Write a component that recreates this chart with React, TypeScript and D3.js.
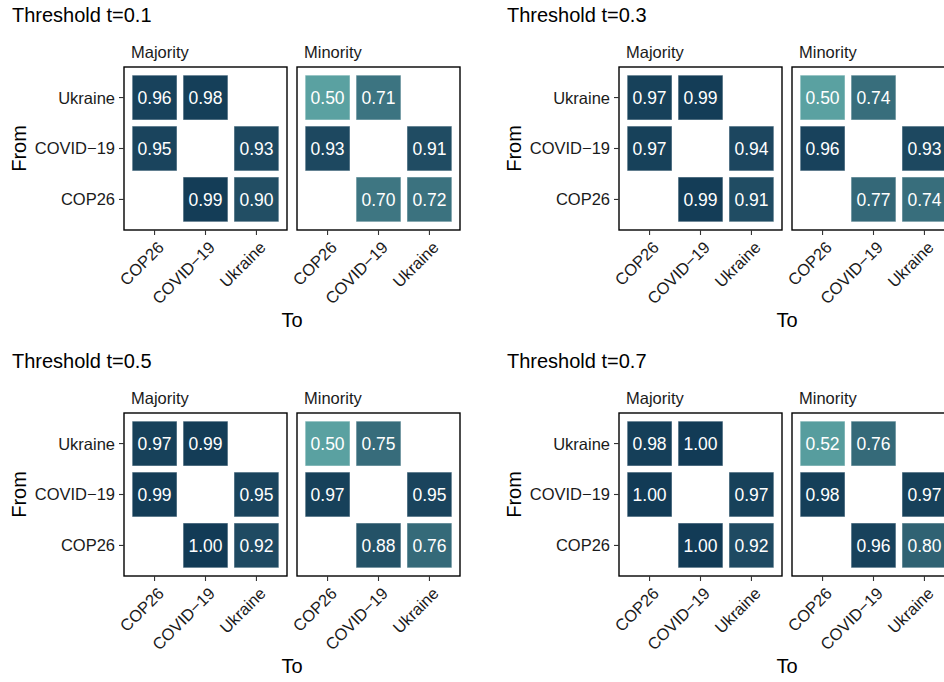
import * as d3 from "d3";

// categories
const fromCats = ["Ukraine", "COVID\u221219", "COP26"];
const toCats = ["COP26", "COVID\u221219", "Ukraine"];
const groups = ["Majority", "Minority"];
const thresholds = ["0.1", "0.3", "0.5", "0.7"];

// cells that exist: [from, to]
const cellPairs: [string, string][] = [
  ["Ukraine", "COP26"],
  ["Ukraine", "COVID\u221219"],
  ["COVID\u221219", "COP26"],
  ["COVID\u221219", "Ukraine"],
  ["COP26", "COVID\u221219"],
  ["COP26", "Ukraine"],
];

// values per threshold, in cellPairs order
const majority01 = [0.96, 0.98, 0.95, 0.93, 0.99, 0.9];
const minority01 = [0.5, 0.71, 0.93, 0.91, 0.7, 0.72];
const majority03 = [0.97, 0.99, 0.97, 0.94, 0.99, 0.91];
const minority03 = [0.5, 0.74, 0.96, 0.93, 0.77, 0.74];
const majority05 = [0.97, 0.99, 0.99, 0.95, 1.0, 0.92];
const minority05 = [0.5, 0.75, 0.97, 0.95, 0.88, 0.76];
const majority07 = [0.98, 1.0, 1.0, 0.97, 1.0, 0.92];
const minority07 = [0.52, 0.76, 0.98, 0.97, 0.96, 0.8];

const values = [
  [majority01, minority01],
  [majority03, minority03],
  [majority05, minority05],
  [majority07, minority07],
];

const FONT = "'Liberation Sans', Arial, Helvetica, sans-serif";
const PW = 163;
const PH = 163;
const panelX = [124, 297];
const panelY = 67;
const offX = 495;
const offY = 346;

const color = d3
  .scaleLinear<string>()
  .domain([0.5, 1])
  .range(["#5aa1a1", "#123b56"])
  .interpolate(d3.interpolateLab);

const x = d3.scaleBand().domain(toCats).range([0, PW]).paddingInner(0.12).paddingOuter(0.16);
const y = d3.scaleBand().domain(fromCats).range([0, PH]).paddingInner(0.12).paddingOuter(0.16);

function Plot({ ti }: { ti: number }) {
  const ox = (ti % 2) * offX;
  const oy = Math.floor(ti / 2) * offY;
  return (
    <g transform={`translate(${ox},${oy})`}>
      <text x={12} y={22} fontSize={20} fill="#000">
        {`Threshold t=${thresholds[ti]}`}
      </text>
      {groups.map((g, gi) => {
        const px = panelX[gi];
        return (
          <g key={g} transform={`translate(${px},${panelY})`}>
            <text x={7} y={-9.5} fontSize={16.5} fill="#1a1a1a">
              {g}
            </text>
            {cellPairs.map(([f, t], ci) => {
              const v = values[ti][gi][ci];
              const cx = x(t)!;
              const cy = y(f)!;
              return (
                <g key={ci}>
                  <rect
                    x={cx}
                    y={cy}
                    width={x.bandwidth()}
                    height={y.bandwidth()}
                    fill={color(v)}
                    stroke="#ffffff"
                    strokeOpacity={0.45}
                    strokeWidth={1}
                  />
                  <text
                    x={cx + x.bandwidth() / 2}
                    y={cy + y.bandwidth() / 2}
                    dy="0.36em"
                    textAnchor="middle"
                    fontSize={17.5}
                    fill="#ffffff"
                  >
                    {v.toFixed(2)}
                  </text>
                </g>
              );
            })}
            <rect x={0} y={0} width={PW} height={PH} fill="none" stroke="#000" strokeWidth={1.4} />
            {/* x ticks */}
            {toCats.map((t) => {
              const tx = x(t)! + x.bandwidth() / 2;
              return (
                <g key={t}>
                  <line x1={tx} x2={tx} y1={PH} y2={PH + 5} stroke="#333" strokeWidth={1.1} />
                  <text
                    transform={`translate(${tx + 2},${PH + 10}) rotate(-45)`}
                    textAnchor="end"
                    dy="0.72em"
                    fontSize={16.5}
                    fill="#1a1a1a"
                  >
                    {t}
                  </text>
                </g>
              );
            })}
            {/* y ticks (first panel only) */}
            {gi === 0 &&
              fromCats.map((f) => {
                const ty = y(f)! + y.bandwidth() / 2;
                return (
                  <g key={f}>
                    <line x1={-5} x2={0} y1={ty} y2={ty} stroke="#333" strokeWidth={1.1} />
                    <text x={-9} y={ty} dy="0.36em" textAnchor="end" fontSize={16.5} fill="#1a1a1a">
                      {f}
                    </text>
                  </g>
                );
              })}
          </g>
        );
      })}
      <text x={(panelX[0] + panelX[1] + PW) / 2} y={327} textAnchor="middle" fontSize={20} fill="#000">
        To
      </text>
      <text
        transform={`translate(26,${panelY + PH / 2}) rotate(-90)`}
        textAnchor="middle"
        fontSize={20}
        fill="#000"
      >
        From
      </text>
    </g>
  );
}

export default function App() {
  return (
    <svg
      width={944}
      height={682}
      style={{ position: "absolute", left: 0, top: 0, background: "#fff" }}
      fontFamily={FONT}
    >
      <rect width={944} height={682} fill="#fff" />
      {thresholds.map((t, i) => (
        <Plot key={t} ti={i} />
      ))}
    </svg>
  );
}
